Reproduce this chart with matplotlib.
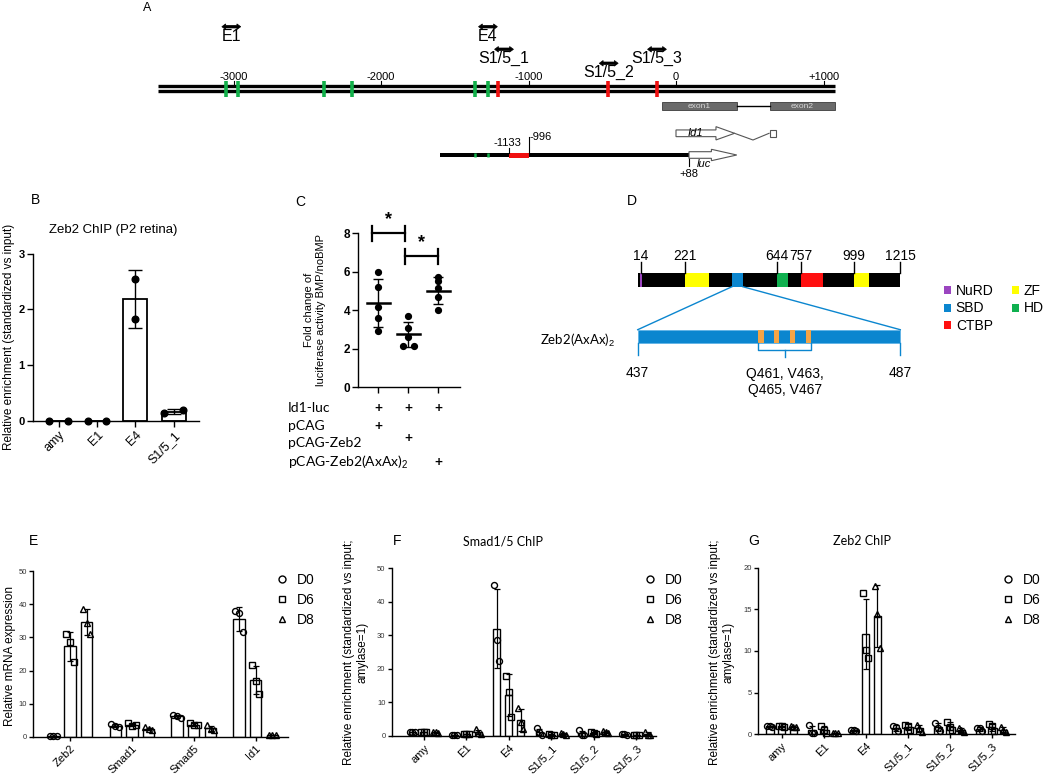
import numpy as np
import matplotlib
matplotlib.use("Agg")
import matplotlib.pyplot as plt
from matplotlib.patches import Rectangle, Polygon, Patch
from matplotlib.lines import Line2D
from matplotlib.transforms import blended_transform_factory

plt.rcParams['font.family'] = ['Liberation Sans', 'DejaVu Sans']
plt.rcParams['mathtext.fontset'] = 'custom'
plt.rcParams['mathtext.rm'] = 'Liberation Sans'
plt.rcParams['axes.linewidth'] = 1.0
plt.rcParams['xtick.major.width'] = 1.0
plt.rcParams['ytick.major.width'] = 1.0

NARROW = ['Liberation Sans Narrow', 'Liberation Sans', 'DejaVu Sans']
CALIBRI = ['Lato', 'DejaVu Sans']

# ---------------- data ----------------
# A: Id1 promoter, positions in bp relative to TSS
a_ticks = [-3000, -2000, -1000, 0, 1000]
a_tick_labels = ['-3000', '-2000', '-1000', '0', '+1000']
a_line_span = [-3515, 1075]
a_green_sites = [-3050, -2972, -2384, -2197, -1366, -1275]
a_red_sites = [-1209, -459, -131]
a_primers = ['E1', 'E4', 'S1/5_1', 'S1/5_2', 'S1/5_3']
a_primer_pos = [-3015, -1275, -1166, -456, -129]
a_exon_start = [-97, 637]
a_exon_end = [412, 1075]
a_exon_names = ['exon1', 'exon2']
a_construct = [-1600, 88]
a_construct_red = [-1133, -996]
a_construct_green = [-1366, -1275]
a_luc_end = 412
a_id1_end = 397

# B: Zeb2 ChIP (P2 retina)
b_cats = ['amy', 'E1', 'E4', 'S1/5_1']
b_reps = [[0.0, 0.0], [0.0, 0.0], [2.55, 1.82], [0.13, 0.20]]

# C: luciferase fold change
c_groups = [[5.99, 5.19, 4.17, 3.60, 2.91],
            [3.71, 3.06, 2.63, 2.16, 2.16],
            [5.75, 5.50, 5.18, 4.68, 4.03]]
c_rows = ['Id1-luc', 'pCAG', 'pCAG-Zeb2', r'pCAG-Zeb2(AxAx)$_2$']
c_plus = [[1, 1, 1], [1, 0, 0], [0, 1, 0], [0, 0, 1]]
c_sig_pairs = [(0, 1), (1, 2)]
c_sig_y = [8.0, 6.8]

# D: Zeb2 domains
d_length = 1215
d_tick_res = [14, 221, 644, 757, 999, 1215]
d_dom_names = ['NuRD', 'ZF', 'SBD', 'HD', 'CTBP', 'ZF']
d_dom_start = [12, 221, 437, 644, 757, 999]
d_dom_end = [21, 330, 487, 697, 857, 1070]
d_zoom = [437, 487]
d_mut_start = [460, 463, 466, 469]
d_mut_label = 'Q461, V463,\nQ465, V467'

# E: RT-qPCR, triplicates per gene
e_genes = ['Zeb2', 'Smad1', 'Smad5', 'Id1']
e_d0 = [[0.1, 0.2, 0.2], [3.9, 3.2, 3.0], [6.6, 6.3, 5.5], [38.1, 37.3, 31.5]]
e_d6 = [[31.0, 28.5, 22.5], [4.0, 3.3, 3.6], [4.1, 3.5, 3.4], [21.6, 16.9, 12.9]]
e_d8 = [[38.6, 34.5, 30.9], [2.8, 2.3, 2.1], [3.4, 2.3, 1.9], [0.6, 0.5, 0.4]]

days = ['D0', 'D6', 'D8']
sites = ['amy', 'E1', 'E4', 'S1/5_1', 'S1/5_2', 'S1/5_3']

# F: Smad1/5 ChIP
f_d0 = [[1.0, 1.0, 1.0], [0.2, 0.1, 0.3], [45.0, 28.5, 22.4], [2.2, 1.0, 0.2], [1.6, 0.2, 0.2], [0.5, 0.4, 0.3]]
f_d6 = [[1.0, 1.0, 1.0], [0.6, 0.5, 0.4], [17.8, 13.0, 5.5], [0.5, 0.3, 0.2], [1.2, 0.8, 0.6], [0.3, 0.2, 0.1]]
f_d8 = [[1.0, 1.0, 0.9], [1.9, 0.9, 0.5], [8.2, 4.0, 1.9], [0.8, 0.5, 0.3], [1.3, 1.0, 0.8], [1.2, 0.2, 0.1]]

# G: Zeb2 ChIP
g_d0 = [[1.0, 1.0, 0.9], [1.1, 0.2, 0.1], [0.5, 0.5, 0.4], [1.0, 0.9, 0.4], [1.4, 0.8, 0.4], [0.8, 0.7, 0.4]]
g_d6 = [[1.0, 1.0, 0.9], [1.0, 0.5, 0.2], [16.9, 10.1, 9.1], [1.1, 1.0, 0.5], [1.5, 0.9, 0.5], [1.2, 1.0, 0.4]]
g_d8 = [[1.0, 0.9, 0.9], [0.2, 0.1, 0.1], [17.8, 14.4, 10.4], [1.1, 0.7, 0.3], [0.7, 0.5, 0.3], [0.9, 0.5, 0.3]]

# ---------------- figure ----------------
W, H = 1050, 776
fig = plt.figure(figsize=(W / 100, H / 100), dpi=100)


def px_axes(x0, y0, x1, y1):
    return fig.add_axes([x0 / W, 1 - y1 / H, (x1 - x0) / W, (y1 - y0) / H])


def fig_text(x, y, s, **kw):
    return fig.text(x / W, 1 - y / H, s, **kw)


GREEN = '#12b04a'
RED = '#f01010'

# ---- panel A ----
axA = px_axes(140, 0, 860, 185)
bp_px = 0.1475
axA.set_xlim((140 - 676) / bp_px, (860 - 676) / bp_px)
axA.set_ylim(185, 0)
axA.axis('off')
for yy in (85.7, 91.0):
    axA.plot(a_line_span, [yy, yy], color='black', lw=2.4, solid_capstyle='butt')
for t, lab in zip(a_ticks, a_tick_labels):
    axA.plot([t, t], [80.5, 84.5], color='black', lw=0.8)
    axA.text(t, 76.5, lab, ha='center', va='center', fontsize=8, family=NARROW)
for s in a_green_sites:
    axA.plot([s, s], [81, 96.5], color=GREEN, lw=2.6, solid_capstyle='butt')
for s in a_red_sites:
    axA.plot([s, s], [81, 96.5], color=RED, lw=2.6, solid_capstyle='butt')


def primer_arrow(ax, xc, yc, half=64, head=26, bh=1.3, hh=2.8):
    x0, x1 = xc - half, xc + half
    verts = [(x0, yc), (x0 + head, yc - hh), (x0 + head, yc - bh), (x1 - head, yc - bh),
             (x1 - head, yc - hh), (x1, yc), (x1 - head, yc + hh), (x1 - head, yc + bh),
             (x0 + head, yc + bh), (x0 + head, yc + hh)]
    ax.add_patch(Polygon(verts, closed=True, facecolor='black', edgecolor='black', lw=0.5))


primer_y = [26.7, 26.7, 49.3, 63.3, 49.3]
for name, pos, yy in zip(a_primers, a_primer_pos, primer_y):
    primer_arrow(axA, pos, yy)
    axA.text(pos, yy + 9.5, name, ha='center', va='center', fontsize=11.5, family=NARROW)

# exons
for s, e, name in zip(a_exon_start, a_exon_end, a_exon_names):
    axA.add_patch(Rectangle((s, 101.7), e - s, 8.3, facecolor='#6b6b6b', edgecolor='#3c3c3c', lw=0.6))
    axA.text((s + e) / 2, 106, name, ha='center', va='center', fontsize=6, color='#d8d8d8', family=NARROW)
axA.plot([a_exon_end[0], a_exon_start[1]], [105.8, 105.8], color='black', lw=1)


def open_arrow(ax, x0, x1, head_start, yc, body_h, head_h, lw=0.8):
    verts = [(x0, yc - body_h / 2), (head_start, yc - body_h / 2), (head_start, yc - head_h / 2),
             (x1, yc), (head_start, yc + head_h / 2), (head_start, yc + body_h / 2), (x0, yc + body_h / 2)]
    ax.add_patch(Polygon(verts, closed=True, facecolor='white', edgecolor='#555555', lw=lw, zorder=3))


# Id1 gene
open_arrow(axA, 0, a_id1_end, 271, 133.3, 6.7, 13.3)
axA.text(130, 133.5, 'Id1', ha='center', va='center', fontsize=8, style='italic', family=NARROW, zorder=4)
axA.plot([a_id1_end, 522, a_exon_start[1] - 6], [133.3, 140, 133.3], color='#555555', lw=0.8)
axA.add_patch(Rectangle((a_exon_start[1], 130), 43, 6.7, facecolor='white', edgecolor='#555555', lw=0.8))

# luciferase construct
axA.add_patch(Rectangle((a_construct[0], 152.7), a_construct[1] - a_construct[0], 4.6,
                        facecolor='black', edgecolor='none'))
axA.add_patch(Rectangle((a_construct_red[0], 152.5), a_construct_red[1] - a_construct_red[0], 5.0,
                        facecolor=RED, edgecolor='none'))
for s in a_construct_green:
    axA.plot([s, s], [152.7, 157.3], color=GREEN, lw=1.8, solid_capstyle='butt')
open_arrow(axA, a_construct[1], a_luc_end, 240, 155, 6.6, 11.4)
axA.text(193, 164, 'luc', ha='center', va='center', fontsize=8, style='italic', family=NARROW)
axA.plot([a_construct_red[0]] * 2, [147.5, 152.7], color='black', lw=0.8)
axA.text(a_construct_red[0] - 10, 143.3, str(a_construct_red[0]), ha='center', va='center',
         fontsize=8, family=NARROW)
axA.plot([a_construct_red[1]] * 2, [136.5, 152.7], color='black', lw=0.8)
axA.text(a_construct_red[1] + 5, 137.3, str(a_construct_red[1]), ha='left', va='center',
         fontsize=8, family=NARROW)
axA.plot([a_construct[1]] * 2, [157.3, 166], color='black', lw=0.8)
axA.text(a_construct[1], 174, '+%d' % a_construct[1], ha='center', va='center', fontsize=8, family=NARROW)

fig_text(147, 8, 'A', fontsize=9, ha='center', va='center', family=NARROW)

# ---- panel B ----
axB = px_axes(33, 253.6, 199, 420.7)
b_x = np.arange(len(b_cats))
b_means = [np.mean(v) for v in b_reps]
b_sd = [np.std(v, ddof=1) for v in b_reps]
b_dx = [[-0.24, 0.24], [-0.24, 0.24], [0.0, 0.0], [-0.24, 0.24]]
axB.bar(b_x, b_means, width=0.62, facecolor='white', edgecolor='black', lw=1.3, zorder=2)
axB.errorbar(b_x, b_means, yerr=b_sd, fmt='none', ecolor='black', elinewidth=1,
             capsize=5, capthick=1, zorder=3)
for i, vals in enumerate(b_reps):
    axB.plot(i + np.array(b_dx[i]), vals, 'o', color='black', ms=4.8, zorder=4, clip_on=False)
axB.set_xlim(-0.67, 3.66)
axB.set_ylim(0, 3)
axB.set_yticks([0, 1, 2, 3])
axB.set_xticks(b_x)
axB.set_xticklabels(b_cats, rotation=45, ha='right', rotation_mode='anchor', fontsize=9)
for lab in axB.get_yticklabels():
    lab.set_fontweight('bold')
    lab.set_fontsize(8)
axB.tick_params(length=4, pad=2)
axB.spines[['top', 'right']].set_visible(False)
fig_text(113, 230, 'Zeb2 ChIP (P2 retina)', fontsize=9.5, ha='center', va='center')
fig_text(9, 337, 'Relative enrichment (standardized vs input)', fontsize=8.5, rotation=90,
         ha='center', va='center')
fig_text(35, 200, 'B', fontsize=10, ha='center', va='center')

# ---- panel C ----
axC = px_axes(358.3, 233.3, 460, 387.3)
c_dx = [[0, 0, 0, 0, 0], [0, 0, 0, -0.18, 0.18], [0, 0, 0, 0, 0]]
for i, vals in enumerate(c_groups):
    v = np.array(vals)
    axC.plot(i + np.array(c_dx[i]), v, 'o', color='black', ms=4.2, zorder=3)
    m, sd = v.mean(), v.std(ddof=1)
    axC.plot([i - 0.37, i + 0.37], [m, m], color='black', lw=1.8, zorder=4)
    axC.errorbar(i, m, yerr=sd, fmt='none', ecolor='black', elinewidth=1, capsize=3.5, capthick=1)
sig_off = [(-0.2, -0.1), (-0.1, 0.0)]
for (i, j), yy, (oi, oj) in zip(c_sig_pairs, c_sig_y, sig_off):
    xa, xb = i + oi, j + oj
    axC.plot([xa, xb], [yy, yy], color='black', lw=1.6, clip_on=False)
    for xx in (xa, xb):
        axC.plot([xx, xx], [yy - 0.38, yy + 0.38], color='black', lw=1.6, clip_on=False)
    axC.text((xa + xb) / 2, yy + 0.25, '*', ha='center', va='bottom', fontsize=13,
             fontweight='bold', clip_on=False)
axC.set_xlim(-0.67, 2.72)
axC.set_ylim(0, 8)
axC.set_yticks([0, 2, 4, 6, 8])
axC.set_xticks(range(3))
axC.set_xticklabels([])
for lab in axC.get_yticklabels():
    lab.set_fontweight('bold')
    lab.set_fontsize(8.5)
axC.tick_params(length=4, pad=2)
axC.spines[['top', 'right']].set_visible(False)
fig_text(315, 310, 'Fold change of\nluciferase activity BMP/noBMP', fontsize=8, rotation=90,
         ha='center', va='center', multialignment='center')
fig_text(300, 202, 'C', fontsize=10, ha='center', va='center')
row_y = [408.3, 426, 442.7, 462.7]
plus_y = [408.3, 426, 438.3, 461.7]
trC = blended_transform_factory(axC.transData, fig.transFigure)
for lab, ry, py, plus in zip(c_rows, row_y, plus_y, c_plus):
    fig_text(288, ry, lab, fontsize=10, ha='left', va='center', family=CALIBRI)
    for k, p in enumerate(plus):
        if p:
            axC.text(k, 1 - py / H, '+', transform=trC, ha='center', va='center', fontsize=10,
                     fontweight='bold', family=CALIBRI)

# ---- panel D ----
axD = px_axes(590, 180, 1050, 420)
res_px = 0.2163
axD.set_xlim(1 + (590 - 637.7) / res_px, 1 + (1050 - 637.7) / res_px)
axD.set_ylim(420, 180)
axD.axis('off')
dom_colors = {'NuRD': '#9b45c0', 'SBD': '#0b86cf', 'CTBP': '#ff1010', 'ZF': '#ffff00', 'HD': '#0fb04f'}
axD.add_patch(Rectangle((1, 273.3), d_length - 1, 13.4, facecolor='black', edgecolor='none'))
for name, s, e in zip(d_dom_names, d_dom_start, d_dom_end):
    axD.add_patch(Rectangle((s, 273.3), e - s, 13.4, facecolor=dom_colors[name], edgecolor='none'))
for r in d_tick_res:
    axD.plot([r, r], [261.5, 273.3], color='black', lw=1)
    axD.text(r, 255.5, str(r), ha='center', va='center', fontsize=10)


def zx(r):
    return 1 + (r - d_zoom[0]) / (d_zoom[1] - d_zoom[0]) * (d_length - 1)


BLUE = dom_colors['SBD']
axD.plot([d_zoom[0], zx(d_zoom[0])], [286.7, 329.7], color=BLUE, lw=1)
axD.plot([d_zoom[1], zx(d_zoom[1])], [286.7, 329.7], color=BLUE, lw=1)
axD.add_patch(Rectangle((zx(d_zoom[0]), 329.7), zx(d_zoom[1]) - zx(d_zoom[0]), 13,
                        facecolor=BLUE, edgecolor='#5fb3e6', lw=0.6))
for r in d_mut_start:
    axD.add_patch(Rectangle((zx(r), 329.7), zx(r + 1) - zx(r), 13, facecolor='#f4a445', edgecolor='none'))
for r in d_zoom:
    axD.plot([zx(r), zx(r)], [342.7, 355], color=BLUE, lw=1)
bl, br = zx(d_mut_start[0]), zx(d_mut_start[-1] + 1)
axD.plot([bl, bl, br, br], [342.7, 350, 350, 342.7], color=BLUE, lw=1)
axD.plot([(bl + br) / 2] * 2, [350, 356.5], color=BLUE, lw=1)
for r in d_zoom:
    axD.text(zx(r), 373.3, str(r), ha='center', va='center', fontsize=10)
axD.text((bl + br) / 2, 382, d_mut_label, ha='center', va='center', fontsize=10, linespacing=1.25)
axD.text(zx(d_zoom[0]) - 105, 340, r'Zeb2(AxAx)$_2$', ha='right', va='center', fontsize=9.5, family=CALIBRI)
order = ['NuRD', 'SBD', 'CTBP', 'ZF', 'HD']
handles = [Patch(facecolor=dom_colors[n], edgecolor='none') for n in order]
axD.legend(handles, order, loc='upper left', bbox_to_anchor=((944 - 590) / 460, 1 - (284 - 180) / 240),
           ncol=2, frameon=False, fontsize=10, handlelength=0.5, handleheight=0.5,
           handletextpad=0.35, columnspacing=1.3, labelspacing=0.25, borderpad=0, borderaxespad=0)
fig_text(632, 201, 'D', fontsize=10, ha='center', va='center')

# ---- panels E, F, G ----
markers = ['o', 's', '^']
jitter = [-0.06, 0.0, 0.06]


def grouped(ax, cats, reps_by_day, offset, width):
    x = np.arange(len(cats))
    for k, reps in enumerate(reps_by_day):
        arr = np.array(reps)
        xs = x + (k - 1) * offset
        mean = arr.mean(axis=1)
        sd = arr.std(axis=1, ddof=1)
        ax.bar(xs, mean, width=width, facecolor='white', edgecolor='black', lw=1.0, zorder=2)
        ax.errorbar(xs, mean, yerr=sd, fmt='none', ecolor='black', elinewidth=0.9,
                    capsize=2.2, capthick=0.9, zorder=3)
        for j in range(arr.shape[1]):
            ax.plot(xs + jitter[j], arr[:, j], linestyle='none', marker=markers[k], ms=4.3,
                    mfc='none', mec='black', mew=1.0, zorder=4, clip_on=False)
    ax.set_xticks(x)
    ax.set_xticklabels(cats, rotation=45, ha='right', rotation_mode='anchor', fontsize=8)
    ax.tick_params(axis='y', labelsize=5.5, labelcolor='#333333', length=3, pad=1.5)
    ax.tick_params(axis='x', length=3, pad=2)
    ax.spines[['top', 'right']].set_visible(False)


def day_legend(ax, x_px, y_px):
    hs = [Line2D([], [], linestyle='none', marker=m, ms=5, mfc='none', mec='black', mew=1.0)
          for m in markers]
    ax.legend(hs, days, loc='upper left', bbox_to_anchor=(x_px / W, 1 - y_px / H),
              bbox_transform=fig.transFigure, frameon=False, fontsize=10, handlelength=1.0,
              handletextpad=0.6, labelspacing=0.42, borderpad=0, borderaxespad=0)


axE = px_axes(33.3, 571.2, 288.3, 736.7)
grouped(axE, e_genes, [e_d0, e_d6, e_d8], 0.27, 0.183)
axE.set_xlim(-0.593, 3.527)
axE.set_ylim(0, 50)
axE.set_yticks(range(0, 51, 10))
day_legend(axE, 275, 573)
fig_text(10, 656, 'Relative mRNA expression', fontsize=8.5, rotation=90, ha='center', va='center')
fig_text(33, 541, 'E', fontsize=10, ha='center', va='center')

ylab = 'Relative enrichment (standardized vs input;\namylase=1)'

axF = px_axes(391.7, 568.2, 656, 735.7)
grouped(axF, sites, [f_d0, f_d6, f_d8], 0.28, 0.165)
axF.set_xlim(-0.76, 5.47)
axF.set_ylim(0, 50)
axF.set_yticks(range(0, 51, 10))
day_legend(axF, 643, 573)
fig_text(356, 652, ylab, fontsize=8.5, rotation=90, ha='center', va='center', multialignment='center')
fig_text(503, 541, 'Smad1/5 ChIP', fontsize=9, ha='center', va='center', family=CALIBRI)
fig_text(397, 541, 'F', fontsize=10, ha='center', va='center')

axG = px_axes(758.3, 567.5, 1015, 734.3)
grouped(axG, sites, [g_d0, g_d6, g_d8], 0.28, 0.172)
axG.set_xlim(-0.557, 5.555)
axG.set_ylim(0, 20)
axG.set_yticks(range(0, 21, 5))
day_legend(axG, 1001, 573)
fig_text(722, 652, ylab, fontsize=8.5, rotation=90, ha='center', va='center', multialignment='center')
fig_text(862, 541, 'Zeb2 ChIP', fontsize=9, ha='center', va='center', family=CALIBRI)
fig_text(754, 541, 'G', fontsize=10, ha='center', va='center')

fig.savefig('out.png', dpi=100)
